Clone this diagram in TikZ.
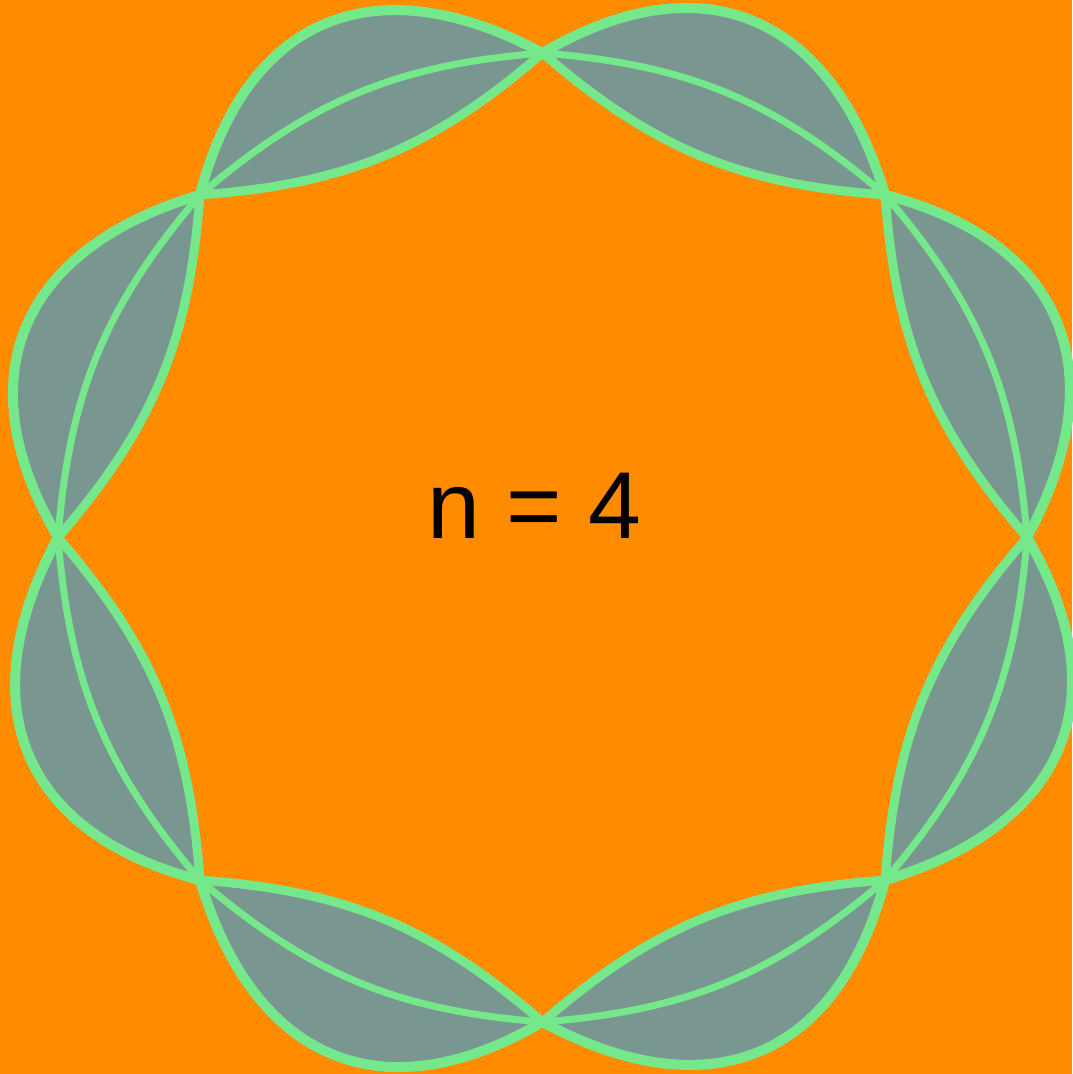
\documentclass[tikz,border=0pt]{standalone}
\usepackage{fontspec}
\setmainfont{Liberation Sans}
\definecolor{bgorange}{HTML}{FF8C00}
\definecolor{petalgray}{HTML}{7A9691}
\definecolor{petalgreen}{HTML}{76E88C}
\begin{document}
\begin{tikzpicture}[x=1pt,y=1pt,
  petalfill/.style={fill=petalgray,draw=none},
  outerline/.style={draw=petalgreen,line width=10pt},
  innerline/.style={draw=petalgreen,line width=9pt},
  midline/.style={draw=petalgreen,line width=7pt}]
\fill[bgorange] (0,-1074) rectangle (1072,0);
\useasboundingbox (0,-1074) rectangle (1072,0);
\def\L{370.8}
% fills
\foreach \k in {0,...,7}{
  \begin{scope}[shift={(542.5,-537.5)}]
  \begin{scope}[shift={({135-45*\k}:484.5)}, rotate={22.5-45*\k}]
    \path[petalfill] (0,0) .. controls (112,148) and (252,146) .. (\L,0)
      .. controls ({\L-139},-46) and (139,-46) .. (0,0) -- cycle;
  \end{scope}
  \end{scope}
}
% strokes
\foreach \k in {0,...,7}{
  \begin{scope}[shift={(542.5,-537.5)}]
  \begin{scope}[shift={({135-45*\k}:484.5)}, rotate={22.5-45*\k}]
    \path[outerline] (0,0) .. controls (112,148) and (252,146) .. (\L,0);
    \path[innerline] (0,0) .. controls (139,-46) and ({\L-139},-46) .. (\L,0);
    \path[midline] (0,0) .. controls (139,45) and ({\L-139},45) .. (\L,0);
  \end{scope}
  \end{scope}
}
\node[anchor=base, inner sep=0pt, font=\fontsize{95}{100}\selectfont] (label) at (534,-538) {n = 4};
\end{tikzpicture}
\end{document}
